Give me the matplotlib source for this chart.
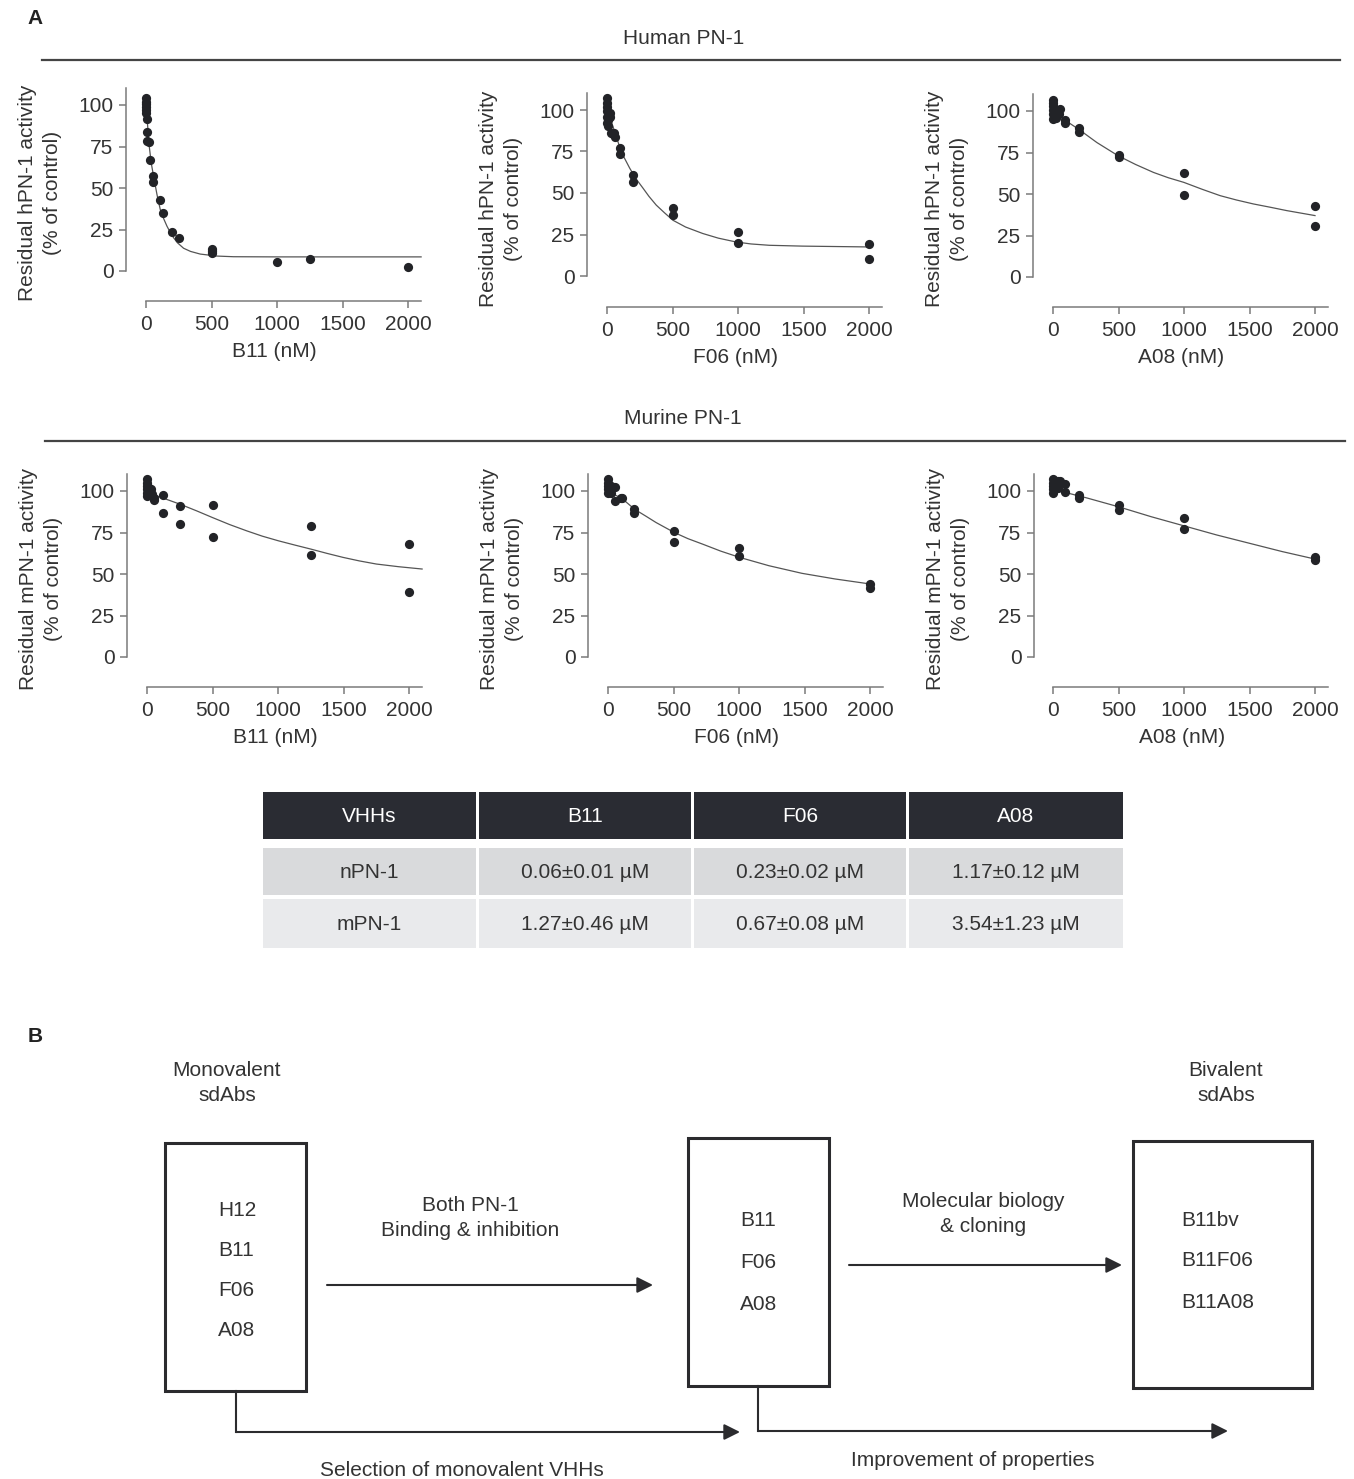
import matplotlib
matplotlib.use("Agg")
import matplotlib.pyplot as plt
from matplotlib.patches import Rectangle

plt.rcParams['font.family'] = ['Liberation Sans', 'DejaVu Sans']
plt.rcParams['font.size'] = 15

# ---- data (nM, % of control) ----
# Human PN-1
hu_b11_x = [0, 0, 0, 0, 0, 2, 4, 8, 10, 25, 28, 50, 53, 104, 128, 200, 250, 500, 500, 500, 1000, 1250, 2000]
hu_b11_y = [104, 102, 100.5, 99, 97, 95, 91.5, 84, 78.5, 78, 67, 57.5, 53.5, 43, 35, 23.5, 20, 13.5, 12, 11, 5.5, 7, 2.5]
hu_b11_fit_x = [0, 10, 25, 40, 58, 84, 109, 135, 160, 185, 211, 240, 287, 340, 414, 541, 668, 1000, 1500, 2100]
hu_b11_fit_y = [101, 90, 75, 65, 57, 46, 37, 31.5, 27, 23.3, 20, 17, 13.7, 11.8, 10.2, 9, 8.6, 8.5, 8.5, 8.5]

hu_f06_x = [0, 0, 0, 0, 0, 0, 5, 5, 20, 25, 30, 45, 55, 60, 100, 100, 200, 200, 500, 500, 1000, 1000, 2000, 2000]
hu_f06_y = [107, 104.5, 102, 99.5, 96, 92, 94, 90.5, 98, 95.5, 86, 85.5, 86, 84, 77, 73.5, 61, 56.5, 41, 37, 26.5, 20, 19, 10]
hu_f06_fit_x = [0, 25, 46, 70, 96, 130, 173, 220, 274, 320, 376, 440, 503, 600, 731, 850, 985, 1100, 1239, 1492, 2000]
hu_f06_fit_y = [99, 94.5, 90, 84, 78, 71.5, 65, 58.7, 53, 48, 42.7, 38, 33.6, 29.5, 25.6, 22.8, 20.5, 19.3, 18.5, 18, 17.5]

hu_a08_x = [0, 0, 0, 0, 0, 0, 10, 25, 45, 50, 95, 95, 200, 200, 500, 500, 1000, 1000, 2000, 2000]
hu_a08_y = [106.5, 105, 103, 100.5, 98, 95, 99, 96, 98, 101, 94.5, 92.5, 89.5, 87.5, 73.5, 72.5, 62.5, 49.5, 43, 31]
hu_a08_fit_x = [0, 81, 196, 335, 498, 630, 767, 880, 999, 1140, 1276, 1400, 1530, 1660, 1784, 2000]
hu_a08_fit_y = [100.4, 95, 89, 81, 73, 67.8, 63, 59.8, 57, 52.8, 49, 46.4, 44, 42, 40, 37]

# Murine PN-1
mu_b11_x = [0, 0, 0, 0, 0, 0, 12, 30, 38, 50, 55, 125, 125, 250, 250, 500, 500, 1250, 1250, 2000, 2000]
mu_b11_y = [107, 105, 103, 101, 99, 97, 102, 101, 98, 96, 94.5, 97.5, 87, 91, 80, 91.5, 72, 79, 61.5, 68, 39]
mu_b11_fit_x = [0, 127, 254, 380, 500, 630, 761, 880, 1003, 1130, 1251, 1375, 1497, 1620, 1751, 1920, 2100]
mu_b11_fit_y = [99, 95.6, 92, 88, 84, 79.8, 76, 72.8, 70, 67.4, 65, 62.4, 60, 57.9, 56, 54.4, 53]

mu_f06_x = [0, 0, 0, 0, 0, 25, 25, 55, 55, 100, 110, 200, 200, 500, 500, 1000, 1000, 2000, 2000]
mu_f06_y = [107, 105, 103, 101, 99, 103, 99, 102.5, 94, 96, 95.5, 89, 86.5, 76, 69, 65.5, 61, 44, 41.5]
mu_f06_fit_x = [0, 114, 203, 290, 367, 506, 610, 722, 860, 1005, 1228, 1481, 1734, 2000]
mu_f06_fit_y = [100, 95, 89, 84.8, 81, 75, 71.3, 68, 63.8, 60, 55, 50.4, 47, 44]

mu_a08_x = [0, 0, 0, 0, 0, 38, 40, 50, 95, 95, 200, 200, 500, 500, 1000, 1000, 2000, 2000]
mu_a08_y = [107, 105, 103, 101, 99, 106, 102, 106, 104, 99.5, 97.5, 95.5, 91.5, 88.5, 83.5, 77, 60, 58.5]
mu_a08_fit_x = [0, 250, 500, 750, 1000, 1250, 1500, 1750, 2000]
mu_a08_fit_y = [101, 96, 90.5, 84.5, 79, 73.5, 68.5, 63.5, 59]

# IC50 table
table_header = ['VHHs', 'B11', 'F06', 'A08']
table_rows = ['nPN-1', 'mPN-1']
ic50_npn1 = ['0.06\u00b10.01 \u00b5M', '0.23\u00b10.02 \u00b5M', '1.17\u00b10.12 \u00b5M']
ic50_mpn1 = ['1.27\u00b10.46 \u00b5M', '0.67\u00b10.08 \u00b5M', '3.54\u00b11.23 \u00b5M']

# Panel B scheme
mono_list = ['H12', 'B11', 'F06', 'A08']
selected_list = ['B11', 'F06', 'A08']
bivalent_list = ['B11bv', 'B11F06', 'B11A08']

W, H = 1354, 1479
fig = plt.figure(figsize=(W / 100, H / 100), dpi=100)

DARK = '#2b2b2e'
GREY = '#7a7a7a'
TXT = '#333333'

# overlay in pixel coordinates for headers, table and scheme
ov = fig.add_axes([0, 0, 1, 1], zorder=-1)
ov.set_xlim(0, W)
ov.set_ylim(H, 0)
ov.axis('off')


def draw_panel(spine_x, x0, y0, xaxis_y, px, py, fx, fy, xlabel, ylabel):
    px_x = 262 / 2000
    px_y = 166 / 100
    x_left = (spine_x - x0) / px_x
    x_right = 2110
    y_bot = -(xaxis_y - y0) / px_y
    y_top = 112
    right = x0 + x_right * px_x
    top = y0 - y_top * px_y
    ax = fig.add_axes([spine_x / W, 1 - xaxis_y / H, (right - spine_x) / W, (xaxis_y - top) / H])
    ax.set_xlim(x_left, x_right)
    ax.set_ylim(y_bot, y_top)
    ax.patch.set_visible(False)
    for s in ['top', 'right']:
        ax.spines[s].set_visible(False)
    for s in ['left', 'bottom']:
        ax.spines[s].set_color(GREY)
        ax.spines[s].set_linewidth(1.1)
    ax.spines['left'].set_bounds(0, 110)
    ax.spines['bottom'].set_bounds(0, 2100)

    ax.plot(fx, fy, color='#555555', lw=0.9, zorder=2)
    ax.scatter(px, py, s=44, color='#222327', linewidths=0, zorder=3, clip_on=False)

    ax.set_xticks([0, 500, 1000, 1500, 2000])
    ax.set_yticks([0, 25, 50, 75, 100])
    ax.tick_params(direction='out', length=5, width=1.1, color=GREY, labelcolor=TXT, labelsize=15)
    ax.tick_params(axis='y', pad=4)
    ax.tick_params(axis='x', pad=5)
    ax.set_xlabel(xlabel, labelpad=6, color=TXT)
    ax.set_ylabel(ylabel, labelpad=12, color=TXT, linespacing=1.4)
    return ax


hlab = 'Residual hPN-1 activity\n(% of control)'
mlab = 'Residual mPN-1 activity\n(% of control)'

draw_panel(126, 146, 271, 301, hu_b11_x, hu_b11_y, hu_b11_fit_x, hu_b11_fit_y, 'B11 (nM)', hlab)
draw_panel(587, 607, 276, 307, hu_f06_x, hu_f06_y, hu_f06_fit_x, hu_f06_fit_y, 'F06 (nM)', hlab)
draw_panel(1033, 1053, 277, 307, hu_a08_x, hu_a08_y, hu_a08_fit_x, hu_a08_fit_y, 'A08 (nM)', hlab)
draw_panel(127, 147, 657, 687, mu_b11_x, mu_b11_y, mu_b11_fit_x, mu_b11_fit_y, 'B11 (nM)', mlab)
draw_panel(588, 608, 657, 687, mu_f06_x, mu_f06_y, mu_f06_fit_x, mu_f06_fit_y, 'F06 (nM)', mlab)
draw_panel(1034, 1053, 657, 687, mu_a08_x, mu_a08_y, mu_a08_fit_x, mu_a08_fit_y, 'A08 (nM)', mlab)

# panel headers
ov.text(35, 18, 'A', fontsize=15, weight='bold', ha='center', va='center', color='#222')
ov.text(684, 38, 'Human PN-1', ha='center', va='center', color=TXT)
ov.plot([42, 1340], [60, 60], color='#444444', lw=1.6)
ov.text(683, 418, 'Murine PN-1', ha='center', va='center', color=TXT)
ov.plot([45, 1345], [441, 441], color='#444444', lw=1.6)

# ---- IC50 table ----
col_edges = [(263, 476), (479, 691), (694, 906), (909, 1123)]
row_edges = [(792, 839), (848, 895), (899, 948)]
row_colors = ['#2a2c33', '#d9dadc', '#e9eaec']
table_cells = [table_header,
               [table_rows[0]] + ic50_npn1,
               [table_rows[1]] + ic50_mpn1]
for r, (y1, y2) in enumerate(row_edges):
    for c, (x1, x2) in enumerate(col_edges):
        ov.add_patch(Rectangle((x1, y1), x2 - x1, y2 - y1, facecolor=row_colors[r], edgecolor='none'))
        ov.text((x1 + x2) / 2, (y1 + y2) / 2 + 1, table_cells[r][c], ha='center', va='center',
                color='white' if r == 0 else TXT, fontsize=15)

# ---- panel B scheme ----
ov.text(35, 1037, 'B', fontsize=15, weight='bold', ha='center', va='center', color='#222')
ov.text(227, 1083, 'Monovalent\nsdAbs', ha='center', va='center', color=TXT, linespacing=1.45)
ov.text(1226, 1083, 'Bivalent\nsdAbs', ha='center', va='center', color=TXT, linespacing=1.45)

boxes = [(165, 1143, 306, 1391), (688, 1138, 829, 1386), (1133, 1141, 1312, 1388)]
for x1, y1, x2, y2 in boxes:
    ov.add_patch(Rectangle((x1, y1), x2 - x1, y2 - y1, facecolor='none', edgecolor=DARK, lw=2.2))

for i, name in enumerate(mono_list):
    ov.text(218, 1211 + 40 * i, name, ha='left', va='center', color=TXT)
for i, name in enumerate(selected_list):
    ov.text(740, 1220 + 42 * i, name, ha='left', va='center', color=TXT)
for i, name in enumerate(bivalent_list):
    ov.text(1181, 1220 + 41 * i, name, ha='left', va='center', color=TXT)

arrow_kw = dict(arrowstyle='-|>', lw=1.5, color=DARK, mutation_scale=24, shrinkA=0, shrinkB=0)
ov.annotate('', xy=(653, 1285), xytext=(327, 1285), arrowprops=arrow_kw)
ov.annotate('', xy=(1122, 1265), xytext=(849, 1265), arrowprops=arrow_kw)
ov.text(470, 1218, 'Both PN-1\nBinding & inhibition', ha='center', va='center', color=TXT, linespacing=1.45)
ov.text(983, 1214, 'Molecular biology\n& cloning', ha='center', va='center', color=TXT, linespacing=1.45)

ov.plot([236, 236], [1391, 1432], color=DARK, lw=1.5)
ov.annotate('', xy=(740, 1432), xytext=(236, 1432), arrowprops=arrow_kw)
ov.plot([758, 758], [1386, 1431], color=DARK, lw=1.5)
ov.annotate('', xy=(1228, 1431), xytext=(758, 1431), arrowprops=arrow_kw)
ov.text(462, 1470, 'Selection of monovalent VHHs', ha='center', va='center', color=TXT)
ov.text(973, 1460, 'Improvement of properties', ha='center', va='center', color=TXT)

fig.savefig('out.png', dpi=100)
